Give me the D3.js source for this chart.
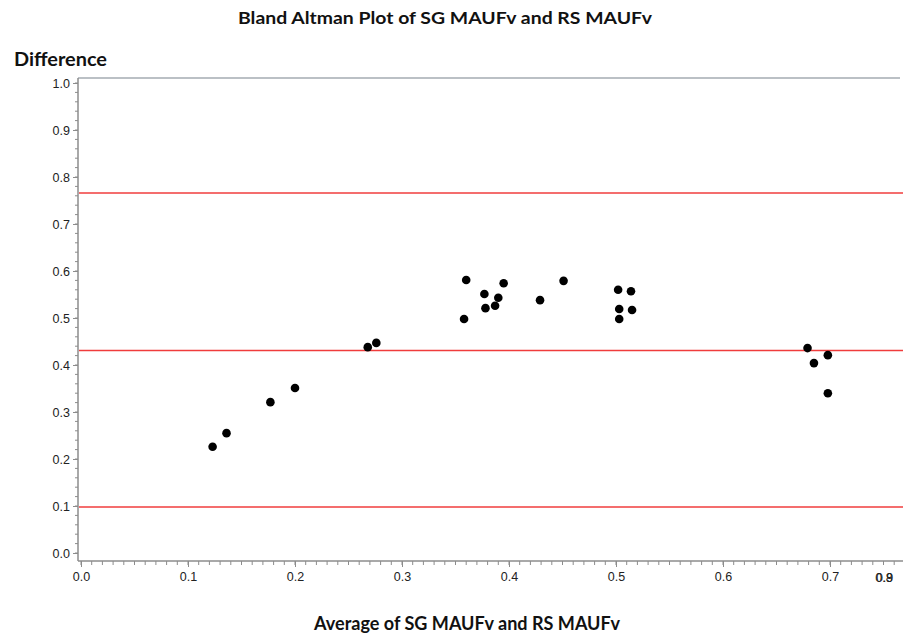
<!DOCTYPE html>
<html><head><meta charset="utf-8">
<script src="https://cdn.jsdelivr.net/npm/d3@7"></script>
<style>body{margin:0;background:#fff}svg{display:block}</style>
</head><body>
<script>
const avg  = [0.123,0.136,0.177,0.200,0.268,0.276,0.358,0.360,0.377,0.378,0.387,0.390,0.395,0.429,0.451,0.502,0.514,0.503,0.515,0.503,0.679,0.685,0.698,0.698];
const diff = [0.226,0.255,0.321,0.351,0.438,0.447,0.498,0.581,0.551,0.521,0.526,0.543,0.574,0.538,0.579,0.560,0.557,0.519,0.517,0.498,0.436,0.404,0.421,0.340];
const refLines = [0.766, 0.431, 0.098];
const xTicks = [0.0,0.1,0.2,0.3,0.4,0.5,0.6,0.7];
const yTicks = [0.0,0.1,0.2,0.3,0.4,0.5,0.6,0.7,0.8,0.9,1.0];
const endLabels = ["0.8","0.9"];
const title = "Bland Altman Plot of SG MAUFv and RS MAUFv";
const xTitle = "Average of SG MAUFv and RS MAUFv";
const yTitle = "Difference";

const W=905,H=635;
const svg=d3.select("body").append("svg").attr("width",W).attr("height",H);
const x=d3.scaleLinear().domain([0,0.1]).range([81,188]);
const y=d3.scaleLinear().domain([0,1]).range([553,83]);
const axL=78, axR=903, axB=561, axT=78;
const axisCol="#8c8c8c", lab="#222", boldFont="Lato, 'Open Sans', sans-serif";
const tickFont="'Liberation Sans', Arial, sans-serif";

svg.append("text").attr("x",445).attr("y",24).attr("text-anchor","middle")
  .attr("font-family",boldFont).attr("font-weight","bold").attr("font-size",17).attr("fill","#111")
  .attr("textLength",414).attr("lengthAdjust","spacingAndGlyphs").text(title);
svg.append("text").attr("x",14).attr("y",66)
  .attr("font-family",boldFont).attr("font-weight","bold").attr("font-size",18.5).attr("fill","#111")
  .attr("textLength",93).attr("lengthAdjust","spacingAndGlyphs").text(yTitle);
svg.append("text").attr("x",467).attr("y",630).attr("text-anchor","middle")
  .attr("font-family",boldFont).attr("font-weight","bold").attr("font-size",18).attr("fill","#111")
  .attr("textLength",306).attr("lengthAdjust","spacingAndGlyphs").text(xTitle);

// top border
svg.append("line").attr("x1",axL).attr("x2",900).attr("y1",axT).attr("y2",axT).attr("stroke","#a4abb2").attr("stroke-width",1.5);

// y axis
const yMinor=d3.range(0,1.0001,0.02);
const yAxis=d3.axisLeft(y).tickValues(yTicks).tickFormat(d3.format(".1f")).tickSize(5).tickPadding(3);
const gy=svg.append("g").attr("transform",`translate(${axL},0)`).call(yAxis);
gy.select(".domain").remove();
gy.selectAll(".tick line").attr("stroke",axisCol);
gy.selectAll(".tick text").attr("font-family",tickFont).attr("font-size",12.5).attr("fill",lab);
svg.append("g").selectAll("line").data(yMinor).join("line")
  .attr("x1",axL-3).attr("x2",axL).attr("y1",d=>y(d)).attr("y2",d=>y(d)).attr("stroke",axisCol);
svg.append("line").attr("x1",axL).attr("x2",axL).attr("y1",axT).attr("y2",axB).attr("stroke",axisCol).attr("stroke-width",1.5);

// x axis
const xMinor=d3.range(0,0.7601,0.01);
const xAxis=d3.axisBottom(x).tickValues(xTicks).tickFormat(d3.format(".1f")).tickSize(6).tickPadding(5);
const gx=svg.append("g").attr("transform",`translate(0,${axB})`).call(xAxis);
gx.select(".domain").remove();
gx.selectAll(".tick line").attr("stroke",axisCol);
gx.selectAll(".tick text").attr("font-family",tickFont).attr("font-size",12.5).attr("fill",lab);
svg.append("g").selectAll("line").data(xMinor).join("line")
  .attr("x1",d=>x(d)).attr("x2",d=>x(d)).attr("y1",axB).attr("y2",axB+4).attr("stroke",axisCol);
svg.append("line").attr("x1",axL).attr("x2",axR).attr("y1",axB).attr("y2",axB).attr("stroke",axisCol).attr("stroke-width",1.5);
svg.append("g").selectAll("text").data(endLabels).join("text")
  .attr("x",(d,i)=>884+i*0.6).attr("y",axB+6+5+12.5*0.71+1).attr("text-anchor","middle")
  .attr("font-family",tickFont).attr("font-size",12.5).attr("fill",lab).text(d=>d);

// reference lines
svg.append("g").selectAll("line").data(refLines).join("line")
  .attr("x1",axL+1).attr("x2",axR).attr("y1",d=>y(d)).attr("y2",d=>y(d))
  .attr("stroke","#f03c3c").attr("stroke-width",1.6);

// points
svg.append("g").selectAll("circle").data(avg).join("circle")
  .attr("cx",d=>x(d)).attr("cy",(d,i)=>y(diff[i])).attr("r",4.3).attr("fill","#000");
</script>
</body></html>
